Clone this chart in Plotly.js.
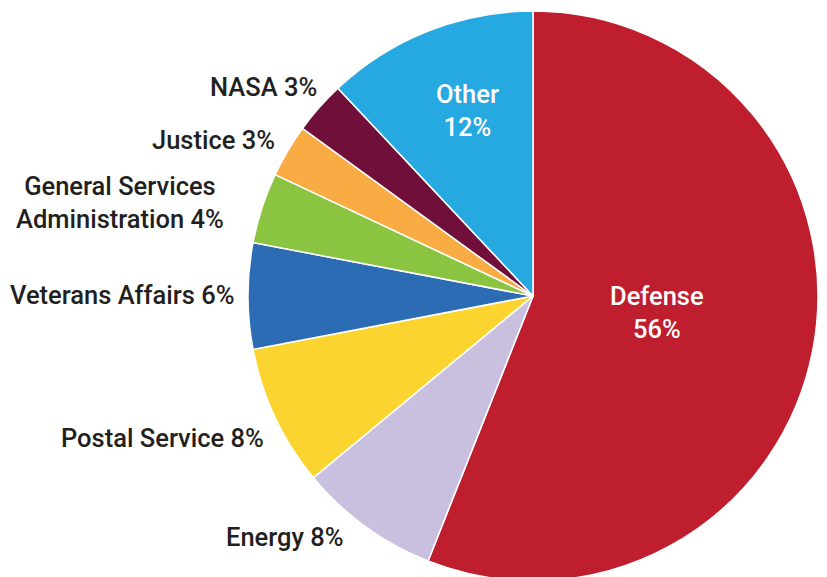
<!DOCTYPE html>
<html>
<head>
<meta charset="utf-8">
<script src="https://cdn.plot.ly/plotly-3.0.1.min.js"></script>
<style>html,body{margin:0;padding:0;overflow:hidden;background:#fff;}</style>
</head>
<body>
<div id="chart" style="width:827px;height:581px;"></div>
<script>
var categories = ["Defense", "Energy", "Postal Service", "Veterans Affairs", "General Services<br>Administration", "Justice", "NASA", "Other"];
var values = [56, 8, 8, 6, 4, 3, 3, 12];
var colors = ["#BE1E2D", "#C8C0DE", "#FCD42F", "#2B6CB4", "#8BC441", "#F9AC43", "#710F3B", "#26A9E0"];

var W = 827, H = 581;
function px(x){ return x / W; }
function py(y){ return 1 - y / H; }

// label anchor placements (pixels) and styles
var labelPos = [
  {x: 657, y: 312, xa: "center", inside: true, br: true},
  {x: 346, y: 537, xa: "right"},
  {x: 266, y: 438, xa: "right"},
  {x: 237, y: 295, xa: "right"},
  {x: 120, y: 202, xa: "center"},
  {x: 277, y: 140, xa: "right"},
  {x: 319, y: 87, xa: "right"},
  {x: 467, y: 111, xa: "center", inside: true, br: true}
];

var annotations = categories.map(function(c, i){
  var p = labelPos[i];
  var sep = p.br ? "<br>" : " ";
  return {
    xref: "paper", yref: "paper",
    x: px(p.x), y: py(p.y),
    xanchor: p.xa, yanchor: "middle",
    align: p.xa === "right" ? "right" : "center",
    showarrow: false,
    text: c + sep + values[i] + "%",
    font: {family: "Roboto, 'Liberation Sans', Arial, sans-serif", size: 25.5, weight: 500,
           color: p.inside ? "#ffffff" : "#231F20"}
  };
});

var data = [{
  type: "pie",
  labels: categories,
  values: values,
  sort: false,
  direction: "clockwise",
  rotation: 0,
  textinfo: "none",
  hoverinfo: "label+percent",
  marker: {colors: colors, line: {color: "#ffffff", width: 1.5}},
  domain: {x: [px(248), px(818)], y: [0, py(11)]},
  showlegend: false
}];

var layout = {
  width: W, height: H,
  margin: {l: 0, r: 0, t: 0, b: 0},
  paper_bgcolor: "#ffffff",
  showlegend: false,
  annotations: annotations
};

Plotly.newPlot("chart", data, layout, {displayModeBar: false, staticPlot: true});
</script>
</body>
</html>
